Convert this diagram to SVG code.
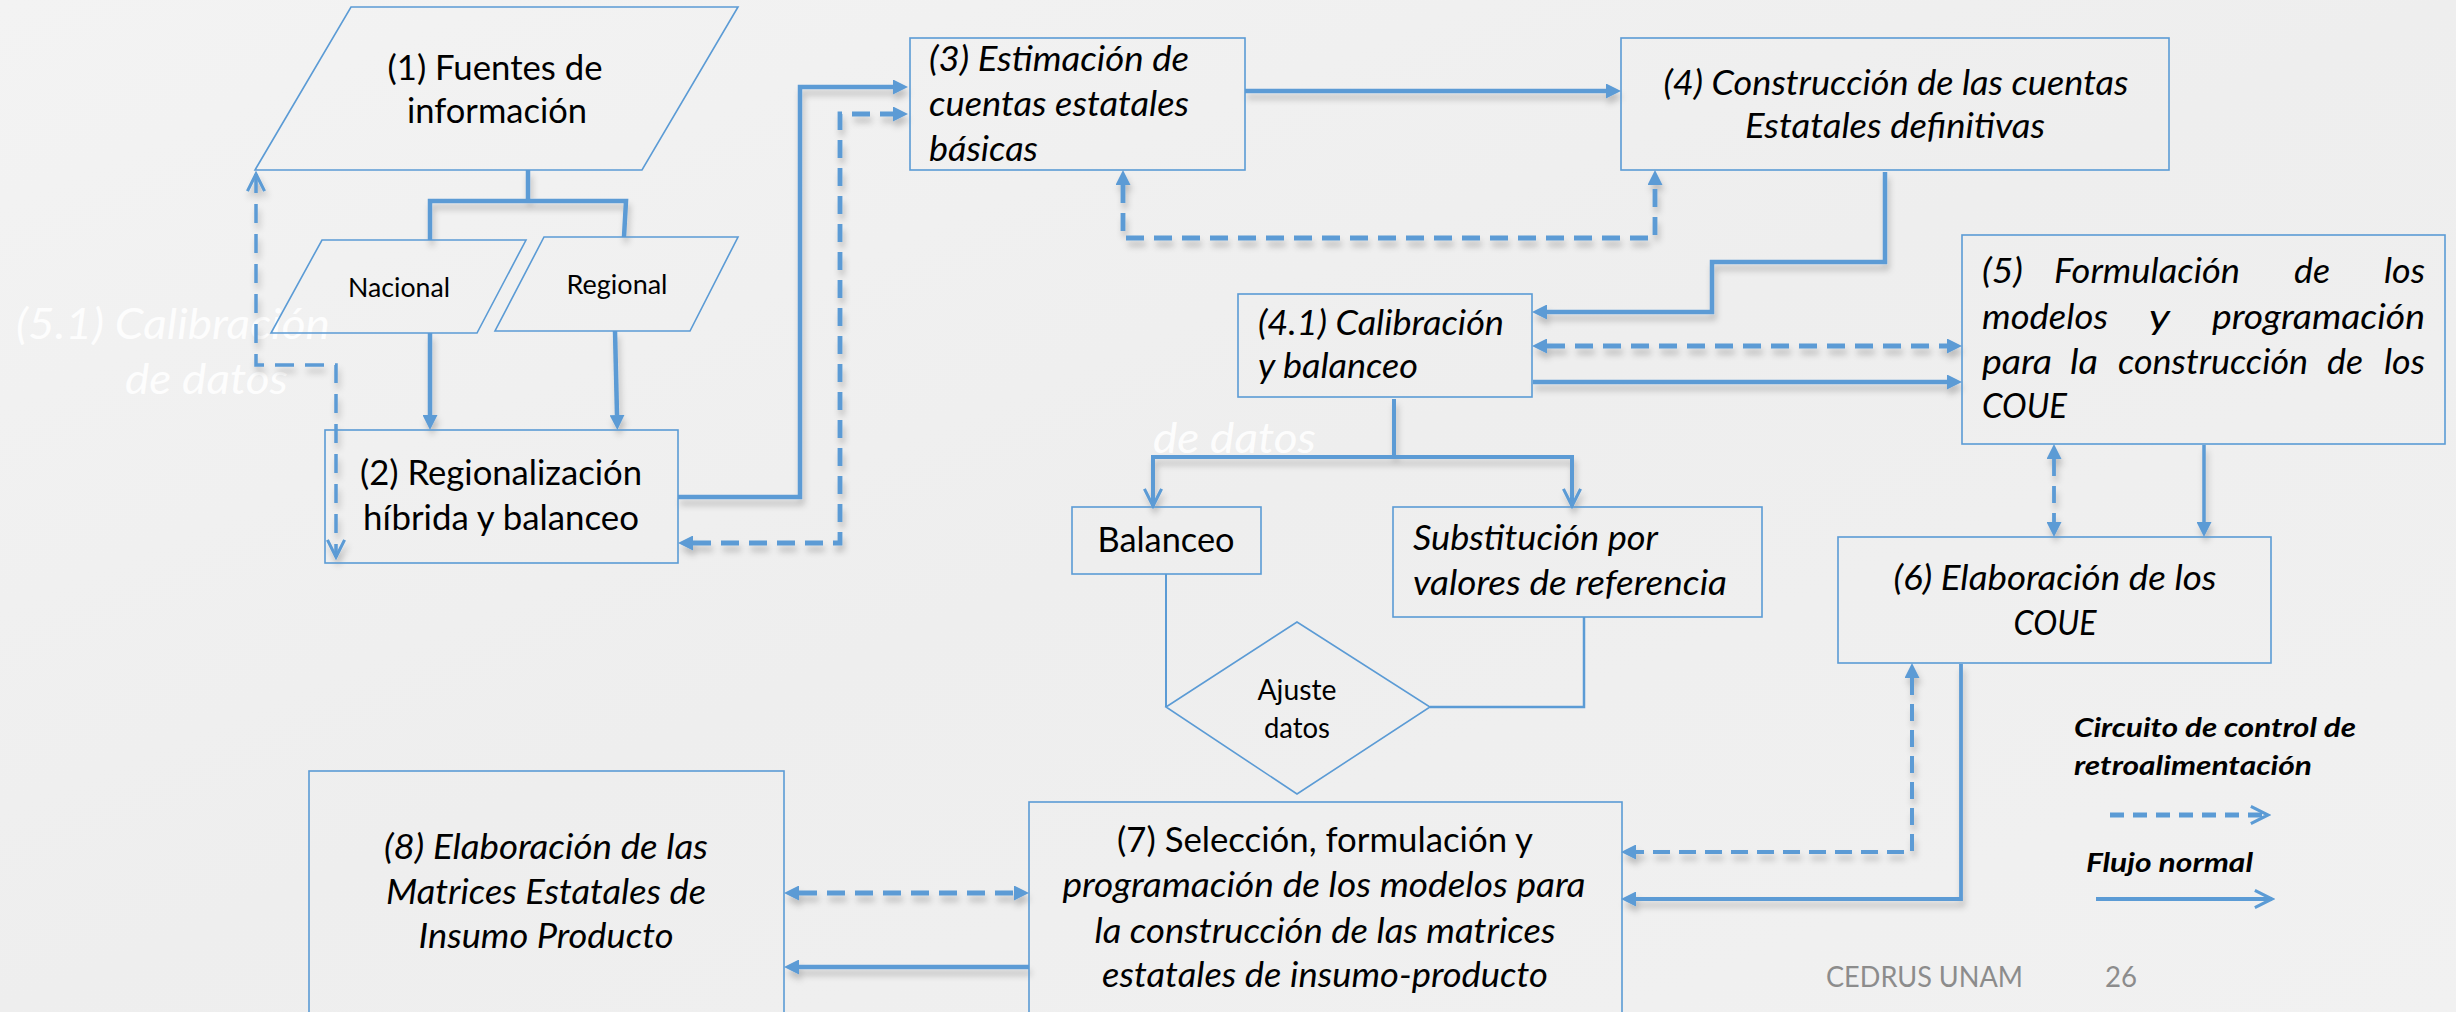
<svg xmlns="http://www.w3.org/2000/svg" width="2456" height="1012" viewBox="0 0 2456 1012">
<defs>
<linearGradient id="bg" x1="0" y1="0" x2="1" y2="1">
<stop offset="0" stop-color="#f3f3f3"/>
<stop offset="0.5" stop-color="#eeeeee"/>
<stop offset="1" stop-color="#f1f1f1"/>
</linearGradient>
<filter id="sh" x="-5%" y="-10%" width="110%" height="130%">
<feDropShadow dx="2" dy="6" stdDeviation="3" flood-color="#000" flood-opacity="0.22"/>
</filter>
<marker id="tri" viewBox="0 0 10 10" refX="0" refY="5" markerWidth="15" markerHeight="15" markerUnits="userSpaceOnUse" orient="auto-start-reverse">
<path d="M0,0 L10,5 L0,10 z" fill="#5b9bd5"/>
</marker>
<marker id="chev" viewBox="-2 -2 14 14" refX="10" refY="5" markerWidth="24" markerHeight="24" markerUnits="userSpaceOnUse" orient="auto-start-reverse">
<path d="M0,0 L10,5 L0,10" fill="none" stroke="#5b9bd5" stroke-width="1.8"/>
</marker>
</defs>
<style>
.box{fill:none;stroke:#5b9bd5;stroke-width:1.6}
.t{font-family:Lato,"Liberation Sans",sans-serif;font-size:34px;fill:#000}
.i{font-style:italic}
.m{text-anchor:middle}
.s{font-size:26.5px}
.sol{fill:none;stroke:#5b9bd5;stroke-width:4.5}
.dsh{fill:none;stroke:#5b9bd5;stroke-width:4.8;stroke-dasharray:18 10}
.thin{fill:none;stroke:#5b9bd5;stroke-width:2}
.wm{font-family:Lato,"Liberation Sans",sans-serif;font-style:italic;font-size:43px;fill:#ffffff;fill-opacity:0.9}
.leg{font-family:Lato,"Liberation Sans",sans-serif;font-style:italic;font-weight:bold;font-size:26px;fill:#000}
.ft{font-family:Lato,"Liberation Sans",sans-serif;font-size:28px;fill:#8c8c8c}
</style>
<rect x="0" y="0" width="2456" height="1012" fill="url(#bg)"/>

<g id="watermarks">
<text class="wm" x="16" y="339" textLength="314" lengthAdjust="spacingAndGlyphs">(5.1) Calibración</text>
<text class="wm" x="125" y="394" textLength="163" lengthAdjust="spacingAndGlyphs">de datos</text>
<text class="wm" x="1153" y="453" textLength="163" lengthAdjust="spacingAndGlyphs">de datos</text>
</g>

<g id="connectors">
<g filter="url(#sh)">
<path class="sol" d="M528,170 V201 M430,240 V201 H626 L624,237"/>
<path class="sol" d="M430,333 V415" marker-end="url(#tri)"/>
<path class="sol" d="M615,331 L617,415" marker-end="url(#tri)"/>
<path class="sol" d="M678,497 H800 V87 H893" marker-end="url(#tri)"/>
<path class="dsh" d="M693,543 H840 V114 H893" marker-start="url(#tri)" marker-end="url(#tri)"/>
<path class="dsh" style="stroke-width:3.5;stroke-dasharray:19 11" d="M256,174 V365 H336 V557" marker-start="url(#chev)" marker-end="url(#chev)"/>
<path class="sol" d="M1245,91 H1606" marker-end="url(#tri)"/>
<path class="dsh" d="M1123,185 V238 H1655 V185" marker-start="url(#tri)" marker-end="url(#tri)"/>
<path class="sol" d="M1885,172 V262 H1712 V312 H1547" marker-end="url(#tri)"/>
<path class="dsh" d="M1547,346 H1947" marker-start="url(#tri)" marker-end="url(#tri)"/>
<path class="sol" d="M1533,382 H1947" marker-end="url(#tri)"/>
<path class="sol" style="stroke-width:4" d="M1394,399 V457"/>
<path class="sol" style="stroke-width:4" d="M1153,506 V457 H1572 V506" marker-start="url(#chev)" marker-end="url(#chev)"/>
<path class="dsh" style="stroke-width:3.8;stroke-dasharray:17 10" d="M2054,459 V522" marker-start="url(#tri)" marker-end="url(#tri)"/>
<path class="sol" style="stroke-width:3.5" d="M2204,445 V522" marker-end="url(#tri)"/>
<path class="dsh" style="stroke-width:4;stroke-dasharray:17 9" d="M1912,678 V852 H1636" marker-start="url(#tri)" marker-end="url(#tri)"/>
<path class="sol" style="stroke-width:3.8" d="M1961,664 V899 H1636" marker-end="url(#tri)"/>
<path class="dsh" d="M799,893 H1014" marker-start="url(#tri)" marker-end="url(#tri)"/>
<path class="sol" d="M1029,967 H799" marker-end="url(#tri)"/>
</g>
<path class="thin" d="M1166,574 V707"/>
<path class="thin" style="stroke-width:2.5" d="M1584,617 V707 H1430"/>
</g>

<g id="n1">
<polygon class="box" points="351,7 738,7 642,170 255,170"/>
<text class="t m" x="495" y="80" textLength="215" lengthAdjust="spacingAndGlyphs">(1) Fuentes de</text>
<text class="t m" x="497" y="123" textLength="180" lengthAdjust="spacingAndGlyphs">información</text>
</g>
<g id="nacional">
<polygon class="box" points="322,240 526,240 477,333 271,333"/>
<text class="t m s" x="399" y="297" textLength="102" lengthAdjust="spacingAndGlyphs">Nacional</text>
</g>
<g id="regional">
<polygon class="box" points="544,237 738,237 690,331 495,331"/>
<text class="t m s" x="617" y="294" textLength="101" lengthAdjust="spacingAndGlyphs">Regional</text>
</g>
<g id="n2">
<rect class="box" x="325" y="430" width="353" height="133"/>
<text class="t m" x="501" y="485" textLength="282" lengthAdjust="spacingAndGlyphs">(2) Regionalización</text>
<text class="t m" x="501" y="530" textLength="276" lengthAdjust="spacingAndGlyphs">híbrida y balanceo</text>
</g>
<g id="n3">
<rect class="box" x="910" y="38" width="335" height="132"/>
<text class="t i" x="929" y="71" textLength="260" lengthAdjust="spacingAndGlyphs">(3) Estimación de</text>
<text class="t i" x="929" y="116" textLength="260" lengthAdjust="spacingAndGlyphs">cuentas estatales</text>
<text class="t i" x="929" y="161" textLength="109" lengthAdjust="spacingAndGlyphs">básicas</text>
</g>
<g id="n4">
<rect class="box" x="1621" y="38" width="548" height="132"/>
<text class="t i m" x="1896" y="95" textLength="465" lengthAdjust="spacingAndGlyphs">(4) Construcción de las cuentas</text>
<text class="t i m" x="1895" y="138" textLength="300" lengthAdjust="spacingAndGlyphs">Estatales definitivas</text>
</g>
<g id="n41">
<rect class="box" x="1238" y="294" width="294" height="103"/>
<text class="t i" x="1258" y="335" textLength="246" lengthAdjust="spacingAndGlyphs">(4.1) Calibración</text>
<text class="t i" x="1258" y="378" textLength="160" lengthAdjust="spacingAndGlyphs">y balanceo</text>
</g>
<g id="balanceo">
<rect class="box" x="1072" y="507" width="189" height="67"/>
<text class="t m" x="1166" y="552" textLength="137" lengthAdjust="spacingAndGlyphs">Balanceo</text>
</g>
<g id="substitucion">
<rect class="box" x="1393" y="507" width="369" height="110"/>
<text class="t i" x="1413" y="550" textLength="245" lengthAdjust="spacingAndGlyphs">Substitución por</text>
<text class="t i" x="1413" y="595" textLength="314" lengthAdjust="spacingAndGlyphs">valores de referencia</text>
</g>
<g id="ajuste">
<polygon class="box" points="1166,707 1297,622 1430,707 1297,794"/>
<text class="t m" style="font-size:28px" x="1297" y="700" textLength="79" lengthAdjust="spacingAndGlyphs">Ajuste</text>
<text class="t m" style="font-size:28px" x="1297" y="738" textLength="66" lengthAdjust="spacingAndGlyphs">datos</text>
</g>
<g id="n5">
<rect class="box" x="1962" y="235" width="483" height="209"/>
<text class="t i" x="1982" y="283" textLength="41" lengthAdjust="spacingAndGlyphs">(5)</text>
<text class="t i" x="2054" y="283" textLength="186" lengthAdjust="spacingAndGlyphs">Formulación</text>
<text class="t i" x="2294" y="283" textLength="36" lengthAdjust="spacingAndGlyphs">de</text>
<text class="t i" x="2384" y="283" textLength="41" lengthAdjust="spacingAndGlyphs">los</text>
<text class="t i" x="1982" y="329" textLength="126" lengthAdjust="spacingAndGlyphs">modelos</text>
<text class="t i" x="2149" y="329" textLength="21" lengthAdjust="spacingAndGlyphs">y</text>
<text class="t i" x="2212" y="329" textLength="213" lengthAdjust="spacingAndGlyphs">programación</text>
<text class="t i" x="1982" y="374" textLength="70" lengthAdjust="spacingAndGlyphs">para</text>
<text class="t i" x="2070" y="374" textLength="28" lengthAdjust="spacingAndGlyphs">la</text>
<text class="t i" x="2118" y="374" textLength="190" lengthAdjust="spacingAndGlyphs">construcción</text>
<text class="t i" x="2327" y="374" textLength="36" lengthAdjust="spacingAndGlyphs">de</text>
<text class="t i" x="2384" y="374" textLength="41" lengthAdjust="spacingAndGlyphs">los</text>
<text class="t i" x="1982" y="418" textLength="85" lengthAdjust="spacingAndGlyphs">COUE</text>
</g>
<g id="n6">
<rect class="box" x="1838" y="537" width="433" height="126"/>
<text class="t i m" x="2055" y="590" textLength="323" lengthAdjust="spacingAndGlyphs">(6) Elaboración de los</text>
<text class="t i m" x="2055" y="635" textLength="83" lengthAdjust="spacingAndGlyphs">COUE</text>
</g>
<g id="n7">
<rect class="box" x="1029" y="802" width="593" height="240"/>
<text class="t m" x="1325" y="852" textLength="416" lengthAdjust="spacingAndGlyphs">(7) Selección, formulación y</text>
<text class="t i m" x="1324" y="897" textLength="523" lengthAdjust="spacingAndGlyphs">programación de los modelos para</text>
<text class="t i m" x="1325" y="943" textLength="461" lengthAdjust="spacingAndGlyphs">la construcción de las matrices</text>
<text class="t i m" x="1325" y="987" textLength="446" lengthAdjust="spacingAndGlyphs">estatales de insumo-producto</text>
</g>
<g id="n8">
<rect class="box" x="309" y="771" width="475" height="271"/>
<text class="t i m" x="546" y="859" textLength="324" lengthAdjust="spacingAndGlyphs">(8) Elaboración de las</text>
<text class="t i m" x="546" y="904" textLength="320" lengthAdjust="spacingAndGlyphs">Matrices Estatales de</text>
<text class="t i m" x="546" y="948" textLength="255" lengthAdjust="spacingAndGlyphs">Insumo Producto</text>
</g>

<g id="legend">
<text class="leg" x="2074" y="737" textLength="282" lengthAdjust="spacingAndGlyphs">Circuito de control de</text>
<text class="leg" x="2074" y="775" textLength="238" lengthAdjust="spacingAndGlyphs">retroalimentación</text>
<path class="dsh" style="stroke-width:4.8;stroke-dasharray:14 9" d="M2110,815 H2268" marker-end="url(#chev)"/>
<text class="leg" x="2086" y="872" textLength="167" lengthAdjust="spacingAndGlyphs">Flujo normal</text>
<path class="sol" style="stroke-width:3.8" d="M2096,899 H2272" marker-end="url(#chev)"/>
</g>

<g id="footer">
<text class="ft" x="1826" y="987" textLength="197" lengthAdjust="spacingAndGlyphs">CEDRUS UNAM</text>
<text class="ft" x="2105" y="987" textLength="32" lengthAdjust="spacingAndGlyphs">26</text>
</g>
</svg>
